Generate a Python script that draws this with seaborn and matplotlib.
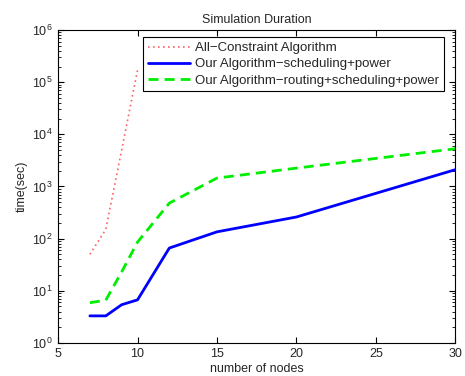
import numpy as np
import pandas as pd
import seaborn as sns
import matplotlib.pyplot as plt
from matplotlib.ticker import LogLocator, NullFormatter

# values
nodes_all = [7, 8, 9, 10]
time_all = [50, 150, 5000, 170000]

nodes_ours = [7, 8, 9, 10, 12, 15, 20, 30]
time_sched = [3.3, 3.3, 5.4, 6.7, 66, 135, 260, 2100]
time_route = [5.9, 6.6, 23, 86, 480, 1450, 2250, 5300]

labels = ['All\u2212Constraint Algorithm',
          'Our Algorithm\u2212scheduling+power',
          'Our Algorithm\u2212routing+scheduling+power']

sns.set_style('ticks')
plt.rcParams['font.family'] = ['Liberation Sans', 'DejaVu Sans']
plt.rcParams['font.size'] = 9
plt.rcParams['mathtext.fontset'] = 'custom'
plt.rcParams['mathtext.rm'] = 'Liberation Sans'

fig = plt.figure(figsize=(4.65, 3.76), dpi=100)
ax = fig.add_axes([0.125, 0.088, 0.854, 0.832])

df1 = pd.DataFrame({'nodes': nodes_all, 'time': time_all})
df2 = pd.DataFrame({'nodes': nodes_ours, 'time': time_sched})
df3 = pd.DataFrame({'nodes': nodes_ours, 'time': time_route})

sns.lineplot(data=df1, x='nodes', y='time', ax=ax, color='#ff6060', lw=1.2,
             linestyle=(0, (1, 2)), label=labels[0])
sns.lineplot(data=df2, x='nodes', y='time', ax=ax, color='#0000ff', lw=2,
             label=labels[1])
sns.lineplot(data=df3, x='nodes', y='time', ax=ax, color='#00ee00', lw=2,
             linestyle=(0, (3.6, 2.2)), label=labels[2])

ax.set_yscale('log')
ax.set_xlim(5, 30)
ax.set_ylim(1, 1e6)
ax.set_xticks([5, 10, 15, 20, 25, 30])
ax.yaxis.set_major_locator(LogLocator(base=10, numticks=10))
ax.yaxis.set_minor_locator(LogLocator(base=10, subs=np.arange(2, 10), numticks=20))
ax.yaxis.set_minor_formatter(NullFormatter())

# matlab-like ticks pointing inward on all four sides
ax.tick_params(which='both', direction='in', top=True, right=True,
               bottom=True, left=True)
ax.tick_params(which='major', length=4, width=0.8, color='black',
               labelsize=9, pad=4)
ax.tick_params(which='minor', length=2, width=0.6, color='black')
ax.tick_params(axis='x', which='minor', bottom=False, top=False)
for s in ax.spines.values():
    s.set_visible(True)
    s.set_linewidth(0.8)
    s.set_color('black')

ax.set_xlabel('number of nodes', fontsize=9, labelpad=2)
ax.set_ylabel('time(sec)', fontsize=9, labelpad=3)
ax.set_title('Simulation Duration', fontsize=9, pad=5)

leg = ax.legend(loc='upper right', bbox_to_anchor=(0.972, 0.977), fontsize=9.5,
                frameon=True, fancybox=False, edgecolor='black', framealpha=1,
                handlelength=3.2, borderpad=0.35, labelspacing=0.3,
                handletextpad=0.4, borderaxespad=0.0)
leg.get_frame().set_linewidth(0.8)

fig.savefig('out.png', dpi=100)
